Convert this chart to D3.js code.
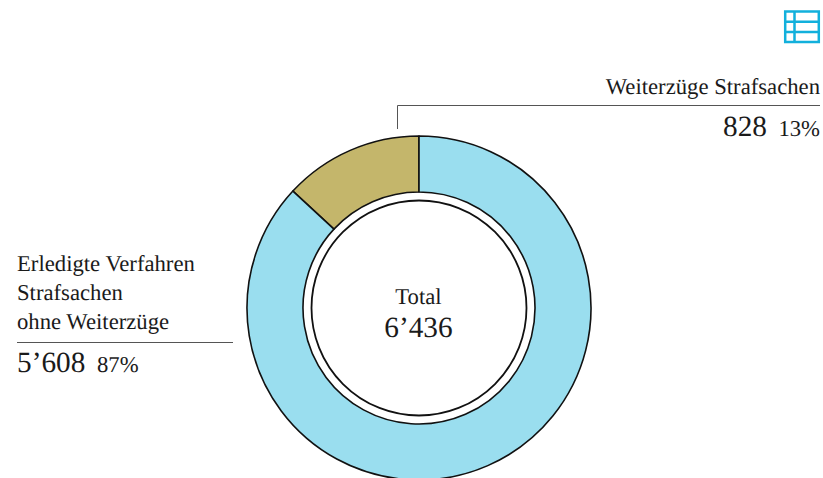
<!DOCTYPE html>
<html><head><meta charset="utf-8">
<script src="https://cdnjs.cloudflare.com/ajax/libs/d3/7.8.5/d3.min.js"></script>
<style>html,body{margin:0;padding:0;background:#fff}svg{display:block}text{font-family:"Liberation Serif",serif;fill:#1a1a1a;text-rendering:geometricPrecision}</style>
</head><body><div id="c"></div>
<script>
const categories = ["Weiterzüge Strafsachen", "Erledigte Verfahren Strafsachen ohne Weiterzüge"];
const values = [828, 5608];
const sharePercents = [13.1, 86.9];
const shares = ["13%", "87%"];
const valueLabels = ["828", "5’608"];
const colors = ["#c4b66b", "#9adeef"];
const leftLabelLines = ["Erledigte Verfahren", "Strafsachen", "ohne Weiterzüge"];
const totalLabel = "Total";
const totalValue = "6’436";

const W = 823, H = 478;
const svg = d3.select("#c").append("svg").attr("width", W).attr("height", H);
const cx = 419, cy = 308;
const g = svg.append("g").attr("transform", `translate(${cx},${cy})`);

// slices follow the shares as drawn in the picture, counter-clockwise from 12 o'clock
const pie = d3.pie().sort(null).startAngle(0).endAngle(-2 * Math.PI);
const arc = d3.arc().innerRadius(116).outerRadius(172);
g.selectAll("path.slice").data(pie(sharePercents)).join("path")
  .attr("class", "slice").attr("d", arc)
  .attr("fill", (d, i) => colors[i])
  .attr("stroke", "#111").attr("stroke-width", 1.6).attr("stroke-linejoin", "round");
g.append("circle").attr("r", 107.5).attr("fill", "#fff").attr("stroke", "#111").attr("stroke-width", 1.8);

const t = (x, y, s, size, anchor) => svg.append("text").attr("x", x).attr("y", y)
  .attr("font-size", size).attr("text-anchor", anchor || "start").text(s);

t(418.5, 303.5, totalLabel, 22.7, "middle");
t(418.5, 336.5, totalValue, 29.3, "middle");

// right callout
svg.append("path").attr("d", "M397.5 129V105.5H820").attr("fill", "none").attr("stroke", "#555").attr("stroke-width", 1);
t(820, 93.5, categories[0], 22.7, "end");
t(820, 135.5, shares[0], 22.7, "end");
t(767, 135.5, valueLabels[0], 29.3, "end");

// left callout
leftLabelLines.forEach((s, i) => t(17, 270.5 + i * 29, s, 22.7));
svg.append("line").attr("x1", 17).attr("x2", 233).attr("y1", 342.5).attr("y2", 342.5).attr("stroke", "#555").attr("stroke-width", 1);
t(17, 372, valueLabels[1], 29.3);
t(97, 372, shares[1], 22.7);

// table icon
const ic = svg.append("g").attr("fill", "none").attr("stroke", "#12b0dc").attr("stroke-width", 2.5);
ic.append("rect").attr("x", 785.2).attr("y", 11.5).attr("width", 33.6).attr("height", 30.5);
ic.append("path").attr("d", "M785 21.7H819M785 32H819M794.5 11.5V42");
</script></body></html>
